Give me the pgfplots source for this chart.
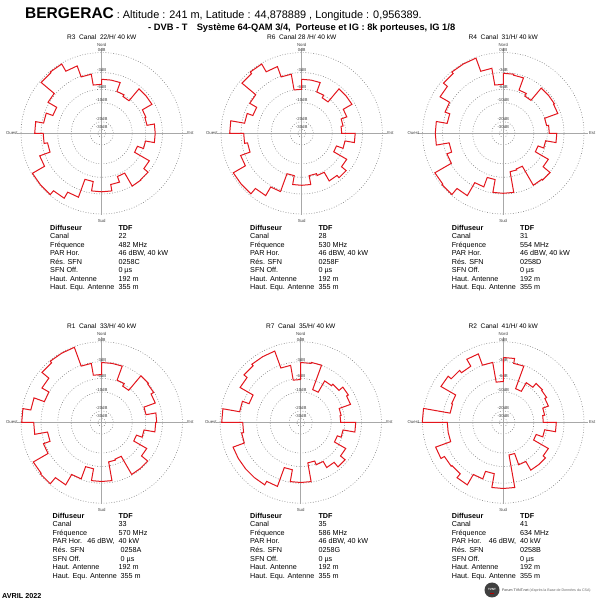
\documentclass[border=0pt]{standalone}
\usepackage{fontspec}
\setmainfont{Liberation Sans}
\usepackage{pgfplots}
\usepackage{pgfplotstable}
\pgfplotsset{compat=1.18}
\definecolor{trace}{HTML}{E3161D}
\definecolor{axe}{HTML}{A8A8A8}
\definecolor{grille}{HTML}{808080}

% diagrammes horizontaux : azimut (deg, sens horaire depuis le nord), rayon (px)
\pgfplotstableread[row sep=\\]{
az r\\
0 54\\10 54\\ 10 54\\20 54\\ 20 44.5\\30 44.5\\ 30 42.5\\40 42.5\\
40 58\\50 58\\ 50 58\\60 58\\ 60 47\\70 47\\ 70 46\\80 46\\
80 53.5\\90 53.5\\ 90 53.5\\100 53.5\\ 100 44.5\\110 44.5\\ 110 38\\120 38\\
120 55\\130 55\\ 130 60.5\\140 60.5\\ 140 61\\150 61\\ 150 46\\160 46\\
160 52\\170 52\\ 170 58.5\\180 58.5\\ 180 58.5\\190 58.5\\ 190 49\\200 49\\
200 68\\210 68\\ 210 75\\220 75\\ 220 80\\230 80\\ 230 80\\240 80\\
240 66\\250 66\\ 250 55\\260 55\\ 260 58.5\\270 58.5\\ 270 67\\280 67\\
280 59\\290 59\\ 290 52\\300 52\\ 300 62\\310 62\\ 310 79\\320 79\\
320 80\\330 80\\ 330 71.7\\340 71.7\\ 340 60\\350 60\\ 350 49\\360 49\\
360 54\\
}\Rtrois

\pgfplotstableread[row sep=\\]{
az r\\
0 54\\10 54\\ 10 54\\20 54\\ 20 44\\30 44\\ 30 41\\40 41\\
40 58\\50 58\\ 50 58\\60 58\\ 60 48\\70 48\\ 70 42\\80 42\\
80 40\\90 40\\ 90 53.5\\100 53.5\\ 100 44\\110 44\\ 110 37\\120 37\\
120 52\\130 52\\ 130 58\\140 58\\ 140 55\\150 55\\ 150 45\\160 45\\
160 43\\170 43\\ 170 52\\180 52\\ 180 52\\190 52\\ 190 43\\200 43\\
200 62\\210 62\\ 210 72\\220 72\\ 220 79\\230 79\\ 230 79\\240 79\\
240 65\\250 65\\ 250 55\\260 55\\ 260 58\\270 58\\ 270 72\\280 72\\
280 58\\290 58\\ 290 52\\300 52\\ 300 60\\310 60\\ 310 78\\320 78\\
320 80\\330 80\\ 330 71\\340 71\\ 340 60\\350 60\\ 350 44\\360 44\\
360 54\\
}\Rsix

\pgfplotstableread[row sep=\\]{
az r\\
0 60\\10 60\\ 10 59\\20 59\\ 20 46\\30 46\\ 30 43\\40 43\\
40 59\\50 59\\ 50 59\\60 59\\ 60 58\\70 58\\ 70 44\\80 44\\
80 46\\90 46\\ 90 53.5\\100 53.5\\ 100 43\\110 43\\ 110 37\\120 37\\
120 52\\130 52\\ 130 61\\140 61\\ 140 60\\150 60\\ 150 38\\160 38\\
160 39\\170 39\\ 170 60\\180 60\\ 180 60\\190 60\\ 190 47\\200 47\\
200 57\\210 57\\ 210 72\\220 72\\ 220 80\\230 80\\ 230 79\\240 79\\
240 60\\250 60\\ 250 55\\260 55\\ 260 68\\270 68\\ 270 68\\280 68\\
280 57\\290 57\\ 290 62\\300 62\\ 300 73\\310 73\\ 310 78\\320 78\\
320 80\\330 80\\ 330 80\\340 80\\ 340 66\\350 66\\ 350 49\\360 49\\
360 60\\
}\Rquatre

\pgfplotstableread[row sep=\\]{
az r\\
0 60\\10 60\\ 10 60\\20 60\\ 20 45\\30 45\\ 30 42\\40 42\\
40 61\\50 61\\ 50 60\\60 60\\ 60 57\\70 57\\ 70 45\\80 45\\
80 55\\90 55\\ 90 54\\100 54\\ 100 43\\110 43\\ 110 37\\120 37\\
120 52\\130 52\\ 130 60\\140 60\\ 140 60\\150 60\\ 150 39\\160 39\\
160 40\\170 40\\ 170 59\\180 59\\ 180 59\\190 59\\ 190 47\\200 47\\
200 60\\210 60\\ 210 72\\220 72\\ 220 80\\230 80\\ 230 79\\240 79\\
240 62\\250 62\\ 250 55\\260 55\\ 260 68\\270 68\\ 270 80\\280 80\\
280 72\\290 72\\ 290 61\\300 61\\ 300 69\\310 69\\ 310 78\\320 78\\
320 80\\330 80\\ 330 80\\340 80\\ 340 60\\350 60\\ 350 48\\360 48\\
360 60\\
}\Run

\pgfplotstableread[row sep=\\]{
az r\\
0 60\\10 60\\ 10 61\\20 61\\ 20 35\\30 35\\ 30 48\\40 48\\
40 50\\50 50\\ 50 55\\60 55\\ 60 53\\70 53\\ 70 41\\80 41\\
80 40\\90 40\\ 90 55\\100 55\\ 100 43\\110 43\\ 110 39\\120 39\\
120 52\\130 52\\ 130 58\\140 58\\ 140 52\\150 52\\ 150 45\\160 45\\
160 41\\170 41\\ 170 60\\180 60\\ 180 60\\190 60\\ 190 48\\200 48\\
200 68\\210 68\\ 210 72\\220 72\\ 220 72\\230 72\\ 230 72\\240 72\\
240 72\\250 72\\ 250 60\\260 60\\ 260 58\\270 58\\ 270 79\\280 79\\
280 62\\290 62\\ 290 55\\300 55\\ 300 70\\310 70\\ 310 74\\320 74\\
320 76\\330 76\\ 330 76\\340 76\\ 340 58\\350 58\\ 350 43\\360 43\\
360 60\\
}\Rsept

\pgfplotstableread[row sep=\\]{
az r\\
0 65\\10 65\\ 10 60\\20 60\\ 20 36\\30 36\\ 30 46\\40 46\\
40 51\\50 51\\ 50 50\\60 50\\ 60 48\\70 48\\ 70 42\\80 42\\
80 40\\90 40\\ 90 53\\100 53\\ 100 42\\110 42\\ 110 35\\120 35\\
120 52\\130 52\\ 130 55\\140 55\\ 140 55\\150 55\\ 150 45\\160 45\\
160 33\\170 33\\ 170 66\\180 66\\ 180 66\\190 66\\ 190 52\\200 52\\
200 60\\210 60\\ 210 72\\220 72\\ 220 67\\230 67\\ 230 68\\240 68\\
240 72\\250 72\\ 250 56\\260 56\\ 260 56\\270 56\\ 270 81\\280 81\\
280 54\\290 54\\ 290 55\\300 55\\ 300 72\\310 72\\ 310 68\\320 68\\
320 65\\330 65\\ 330 73\\340 73\\ 340 61\\350 61\\ 350 41\\360 41\\
360 65\\
}\Rdeux

% fond du cadran : cercles, axes, libelles
\newcommand{\cadran}[3]{%
  \begin{scope}[shift={(#1,#2)}]
    \foreach \rr in {80.7,60.7,44,30.5,11.7,4}
      \draw[grille, line width=0.55pt, dash pattern=on 0.8pt off 1.8pt] (0,0) circle[radius=\rr pt];
    \draw[axe, line width=1.1pt] (-85,0) -- (85,0) (0,85) -- (0,-82);
    \begin{scope}[every node/.style={inner sep=0, font=\fontsize{4.3}{5}\selectfont, text=black!75}]
      \node at (0,88.5) {Nord};
      \node at (0,-87.5) {Sud};
      \node[anchor=east] at (-84,0) {Ouest};
      \node[anchor=west] at (85.5,0) {Est};
      \node at (0,83) {0dB};
      \node at (0,63) {-3dB};
      \node at (0,46.5) {-6dB};
      \node at (0,33) {-10dB};
      \node at (0,14.2) {-20dB};
      \node at (0,6.8) {-30dB};
    \end{scope}
    \node[inner sep=0, font=\fontsize{6.6}{7}\selectfont] at (0,96.5) {#3};
  \end{scope}}

\newcommand{\libelles}[2]{%
  \begin{scope}[shift={(#1,#2-2.6)}, every node/.style={anchor=base west, inner sep=0, font=\fontsize{7.2}{8}\selectfont}]
    \node[font=\fontsize{7.2}{8}\selectfont\bfseries] at (0,0) {Diffuseur};
    \node at (0,-8.55) {Canal};
    \node at (0,-17.1) {Fréquence};
    \node at (0,-25.65) {PAR Hor.};
    \node at (0,-34.2) {Rés. SFN};
    \node at (0,-42.75) {SFN Off.};
    \node at (0,-51.3) {Haut. Antenne};
    \node at (0,-59.85) {Haut. Equ. Antenne};
  \end{scope}}

\newcommand{\colonne}[9]{%
  \begin{scope}[shift={(#1,#2-2.6)}, every node/.style={anchor=base west, inner sep=0, font=\fontsize{7.2}{8}\selectfont}]
    \node[font=\fontsize{7.2}{8}\selectfont\bfseries] at (0,0) {TDF};
    \node at (0,-8.55) {#3};
    \node at (0,-17.1) {#4};
    \node at (0,-25.65) {#5};
    \node at (0,-34.2) {#6};
    \node at (0,-42.75) {#7};
    \node at (0,-51.3) {#8};
    \node at (0,-59.85) {#9};
  \end{scope}}

\pgfplotsset{diagramme/.style={anchor=center, x=1pt, y=1pt,
    xmin=-90, xmax=90, ymin=-90, ymax=90, hide axis, clip=false}}

\begin{document}
\begin{tikzpicture}[x=1pt,y=1pt]
\path[use as bounding box, fill=white] (0,0) rectangle (600,600);

% en-tete
\node[anchor=base west, inner sep=0] at (25,581)
  {{\fontsize{15.5}{16}\selectfont\bfseries BERGERAC}{\fontsize{10.9}{11}\selectfont\ : Altitude : 241 m, Latitude : 44,878889 , Longitude : 0,956389.}};
\node[anchor=base west, inner sep=0, font=\fontsize{9.3}{10}\selectfont\bfseries] at (148,569)
  {- DVB - T\quad Système 64-QAM 3/4,\ \ Porteuse et IG : 8k porteuses, IG 1/8};

% cadrans
\cadran{101.7}{466.7}{R3\ \ Canal\ \ 22/H/ 40 kW}
\cadran{301.7}{466.7}{R6\ \ Canal 28 /H/ 40 kW}
\cadran{503.3}{466.7}{R4\ \ Canal\ \ 31/H/ 40 kW}
\cadran{101.7}{177.5}{R1\ \ Canal\ \ 33/H/ 40 kW}
\cadran{300.7}{177.5}{R7\ \ Canal\ \ 35/H/ 40 kW}
\cadran{503.3}{177.5}{R2\ \ Canal\ \ 41/H/ 40 kW}

% diagrammes
\begin{axis}[diagramme, at={(101.7pt,466.7pt)}]
  \addplot[trace, line width=1pt, mark=none, data cs=polar] table[x expr=90-\thisrow{az}, y=r] {\Rtrois};
\end{axis}
\begin{axis}[diagramme, at={(301.7pt,466.7pt)}]
  \addplot[trace, line width=1pt, mark=none, data cs=polar] table[x expr=90-\thisrow{az}, y=r] {\Rsix};
\end{axis}
\begin{axis}[diagramme, at={(503.3pt,466.7pt)}]
  \addplot[trace, line width=1pt, mark=none, data cs=polar] table[x expr=90-\thisrow{az}, y=r] {\Rquatre};
\end{axis}
\begin{axis}[diagramme, at={(101.7pt,177.5pt)}]
  \addplot[trace, line width=1pt, mark=none, data cs=polar] table[x expr=90-\thisrow{az}, y=r] {\Run};
\end{axis}
\begin{axis}[diagramme, at={(300.7pt,177.5pt)}]
  \addplot[trace, line width=1pt, mark=none, data cs=polar] table[x expr=90-\thisrow{az}, y=r] {\Rsept};
\end{axis}
\begin{axis}[diagramme, at={(503.3pt,177.5pt)}]
  \addplot[trace, line width=1pt, mark=none, data cs=polar] table[x expr=90-\thisrow{az}, y=r] {\Rdeux};
\end{axis}

% fiches
\libelles{50}{372.5}
\colonne{118.3}{372.5}{22}{482 MHz}{46 dBW, 40 kW}{0258C}{0 µs}{192 m}{355 m}
\libelles{250}{372.5}
\colonne{318.3}{372.5}{28}{530 MHz}{46 dBW, 40 kW}{0258F}{0 µs}{192 m}{355 m}
\libelles{451.6}{372.5}
\colonne{520}{372.5}{31}{554 MHz}{46 dBW, 40 kW}{0258D}{0 µs}{192 m}{355 m}

\libelles{52.5}{84.3}
\colonne{118.5}{84.3}{33}{570 MHz}{\llap{46 dBW,\ \ }40 kW}{\ 0258A}{\ 0 µs}{192 m}{\ 355 m}
\libelles{250}{84.3}
\colonne{318.3}{84.3}{35}{586 MHz}{46 dBW, 40 kW}{0258G}{0 µs}{192 m}{355 m}
\libelles{451.6}{84.3}
\colonne{520}{84.3}{41}{634 MHz}{\llap{46 dBW,\ \ }40 kW}{0258B}{0 µs}{192 m}{355 m}

% pied de page
\node[anchor=west, inner sep=0, font=\fontsize{7.2}{8}\selectfont\bfseries] at (2,4) {AVRIL 2022};
\fill[black!75] (492,10) circle[radius=7.5pt];
\node[inner sep=0, text=white, font=\fontsize{3}{3}\selectfont\bfseries] at (492,11) {TVNT};
\fill[red!70!black] (490,6.5) rectangle (494,5.5);
\node[anchor=west, inner sep=0, font=\fontsize{3.6}{4}\selectfont, text=black!80] at (502,9)
  {Forum TVNT.net {\color{black!60}(d'après la Base de Données du CSA)}};
\end{tikzpicture}
\end{document}
